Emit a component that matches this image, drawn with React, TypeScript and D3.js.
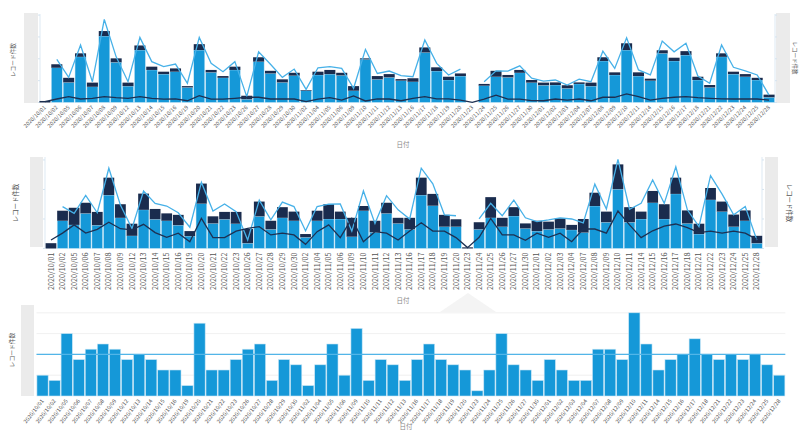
import React from 'react';
import * as d3 from 'd3';

const dates = [
  '2020/10/01','2020/10/02','2020/10/05','2020/10/06','2020/10/07','2020/10/08','2020/10/09','2020/10/12','2020/10/13','2020/10/14','2020/10/15','2020/10/16','2020/10/19','2020/10/20','2020/10/21','2020/10/22','2020/10/23','2020/10/26','2020/10/27','2020/10/28','2020/10/29','2020/10/30',
  '2020/11/02','2020/11/04','2020/11/05','2020/11/06','2020/11/09','2020/11/10','2020/11/11','2020/11/12','2020/11/13','2020/11/16','2020/11/17','2020/11/18','2020/11/19','2020/11/20','2020/11/23','2020/11/24','2020/11/25','2020/11/26','2020/11/27','2020/11/30',
  '2020/12/01','2020/12/02','2020/12/03','2020/12/04','2020/12/07','2020/12/08','2020/12/09','2020/12/10','2020/12/11','2020/12/14','2020/12/15','2020/12/16','2020/12/17','2020/12/18','2020/12/21','2020/12/22','2020/12/23','2020/12/24','2020/12/25','2020/12/28'
];

// Chart 1 (top)
const topMain = [0,15.9,9.2,20.9,7.2,30.4,18.4,7.5,24,14.9,13,14.1,6.9,24,13.8,11.3,14.9,1.5,18.7,13.3,9.2,12.3,
  5.4,12.6,13,12.4,5.4,19.7,10.6,11.5,10,9.5,22.9,14.4,10.3,12.1,0,7.7,11.8,11.5,13.6,9.1,
  7.9,8,6.5,8.5,7.5,19,12.6,24,12.1,10,22.5,19,21.7,10.3,6.9,20.9,13,11.8,10.3,2.4];
const topCap = [0.7,1.6,2.1,1.6,1.9,2.3,1.8,1.6,2.1,1.5,1.1,1.5,0.6,2.7,1.1,0.8,1.5,1.6,2.0,1.2,1.4,1.3,
  0.3,1.5,1.9,1.2,2.1,0.5,1.5,1.5,0.7,1.6,2.3,1.7,1.5,1.2,0,0.8,2.7,1.1,1.3,1.2,
  1.2,1.2,1.4,0.7,1.6,1.7,1.2,3.1,1.7,0.9,1.4,1.5,1.8,1.5,1.1,1.6,1.1,1.2,1.0,1.2];
const topLineA: (number | null)[] = [null,19.7,11.5,26.3,9.5,38,20.9,9.5,29.8,18.7,16.4,17.6,8.8,29.8,17.9,14.1,18.7,2.7,23.2,17.5,11.5,15.3,
  6,15.9,16.4,15.6,6.5,24.3,13.3,14.4,12.3,11.8,28.6,17.9,12.6,15.3,null,9.5,14.5,14.4,16.8,11.1,
  9.8,10.3,8,10.7,9.5,23.5,15.6,29.6,14.9,12.6,28.1,23.2,27.1,12.1,8.8,26.3,16.1,14.5,12.6,3.4];
const topLineB = [0.4,1.6,2.7,1.6,1.9,2.7,2.2,1.9,2.7,1.9,1.5,1.7,0.8,3.1,1.5,1.5,1.9,2.4,2.4,1.6,1.6,1.6,
  0.4,1.5,2.2,1.1,3,0.7,1.7,1.6,0.8,1.9,2.7,1.7,1.7,1.1,0.1,1.5,3.4,1.5,1.5,0.9,
  0.8,1.6,1.1,1.6,0.8,2.4,2.4,3.9,2.7,1.1,1.9,2.4,2.7,2.2,1.9,1.7,1.6,1.7,1.6,1.1];
const topTicks = [0, 10, 20, 30, 40];

// Chart 2 (middle)
const midMain = [0,9.4,8,11.9,7.9,18.1,10.4,4.3,13.1,9.9,9.4,7.9,4.2,15.2,8.5,9.9,8.4,1.8,10.9,6.5,10.4,9.4,
  3.8,9.4,10,10,4,12.8,5.5,11.9,8.5,6.5,18.1,14.5,7.4,7.4,0,6.5,10.4,7.4,11,6.8,
  5.9,6.5,6.8,6.3,5.4,14.4,8.9,20.1,8.9,10,15.5,10,18.5,8.5,4.9,16.5,12.5,7.4,9.4,1.8];
const midCap = [1.8,3.4,5.8,3.6,4.5,5.9,4.6,4.1,5.5,3.5,2.5,3.5,1.7,6.8,2.4,2.5,4.0,4.8,5.0,2.9,3.6,3.1,
  1.1,3.4,5.0,2.5,6.4,1.6,3.9,3.6,1.9,3.9,5.9,4.0,4.0,2.5,0.4,2.4,7.0,3.0,3.0,1.7,
  3.5,2.6,3.4,1.7,4.6,4.5,3.6,8.4,5.1,2.5,4.0,5.0,5.5,4.4,3.5,4.0,3.4,4.1,3.5,2.5];
const midLineA: (number | null)[] = [null,14.2,11.9,18,12.1,27.2,14.7,6.8,19.5,15.3,14.4,12.1,7.2,22.4,12.7,15.1,12.5,2.9,16.4,9.7,15.7,14.2,
  6,14.2,15,15.1,5.9,19.5,8.5,17.9,13.1,10,27.2,21.9,11.4,11.1,null,10,15.3,11.1,16.4,10.4,
  9.1,9.7,10.4,10,8.7,21.8,13.4,30.2,13.3,15.3,23.2,15.3,27.7,13.1,7.4,24.7,18.4,11.4,14.2,2.9];
const midLineB = [2.9,5.2,8,5.2,6.5,8.9,6.7,6.3,8.2,5.4,3.8,5.2,2.3,10.2,3.7,3.7,5.9,6.8,7.4,4.6,5.2,4.6,
  1.4,5.7,8,3.7,10.2,2.3,5.7,5.2,2.9,5.9,8.7,5.9,5.9,3.7,0.3,3.8,10.2,4.6,4.6,2.8,
  5.2,3.8,5.2,2.3,6.6,6.6,5.2,12.7,8,3.7,6,7.6,8.3,7.1,5.4,5.9,5.2,5.9,5.2,3.1];
const midTicks = [0, 10, 20, 30];

// Chart 3 (bottom)
const botCount = [4,3,12,7,9,10,9,7,8,7,5,5,2,14,5,5,7,9,10,3,7,6,
  2,6,10,4,13,3,7,6,3,7,10,7,6,5,1,5,12,6,5,3,
  7,5,3,3,9,9,7,16,10,5,7,8,11,8,7,8,7,8,6,4];
const botRef = 8;
const botTicks = [4, 8, 12, 16];

const yTitle = 'レコード件数';
const xTitle = '日付';

const FONT = '"Noto Sans CJK JP", "Noto Sans", sans-serif';
const C_BAR = '#1598d8';
const C_CAP = '#1a2c4e';
const C_LINE_A = '#47b1e8';
const C_LINE_B = '#1d3052';
const C_BOX = '#ebebeb';
const C_TXT = '#555';

function band(range: [number, number]) {
  return d3.scaleBand<string>().domain(dates).range(range).paddingInner(0.07).paddingOuter(0.035);
}

type StackCfg = {
  main: number[]; cap: number[]; lineA: (number | null)[]; lineB: number[];
  xr: [number, number]; ydom: [number, number]; yr: [number, number];
  ticks: number[]; leftAxisX: number; rightAxisX: number;
  leftBox: [number, number, number, number]; rightBox: [number, number, number, number];
  leftLabel: [number, number, number]; rightLabel: [number, number, number];
  titleY: number; labelMode: 'slant' | 'vertical';
};

function StackPanel({ c }: { c: StackCfg }) {
  const x = band(c.xr);
  const y = d3.scaleLinear().domain(c.ydom).range(c.yr);
  const bw = x.bandwidth();
  const cx = (d: string) => (x(d) as number) + bw / 2;
  const lineA = d3.line<number | null>()
    .defined((v) => v !== null)
    .x((_, i) => cx(dates[i]))
    .y((v) => y(v as number));
  const lineB = d3.line<number>().x((_, i) => cx(dates[i])).y((v) => y(v));
  const base = y(0);
  return (
    <g>
      <rect x={c.leftBox[0]} y={c.leftBox[1]} width={c.leftBox[2]} height={c.leftBox[3]} fill={C_BOX} />
      <rect x={c.rightBox[0]} y={c.rightBox[1]} width={c.rightBox[2]} height={c.rightBox[3]} fill={C_BOX} />
      <line x1={c.leftAxisX} x2={c.leftAxisX} y1={c.yr[1]} y2={base} stroke="#dde9f3" />
      <line x1={c.rightAxisX} x2={c.rightAxisX} y1={c.yr[1]} y2={base} stroke="#dde9f3" />
      {c.ticks.map((t) => (
        <g key={t}>
          <line x1={c.leftAxisX - 2} x2={c.leftAxisX} y1={y(t)} y2={y(t)} stroke="#d5e4f0" />
          <line x1={c.rightAxisX} x2={c.rightAxisX + 2} y1={y(t)} y2={y(t)} stroke="#d5e4f0" />
        </g>
      ))}
      {dates.map((d, i) => (
        <g key={d}>
          {c.main[i] > 0 && (
            <rect x={x(d)} y={y(c.main[i])} width={bw} height={base - y(c.main[i])}
              fill={C_BAR} stroke="#cfe9f7" strokeWidth={0.5} />
          )}
          {c.cap[i] > 0 && (
            <rect x={x(d)} y={y(c.main[i] + c.cap[i])} width={bw}
              height={y(c.main[i]) - y(c.main[i] + c.cap[i])} fill={C_CAP} />
          )}
        </g>
      ))}
      <path d={lineA(c.lineA) || ''} fill="none" stroke={C_LINE_A} strokeWidth={1.3} />
      <path d={lineB(c.lineB) || ''} fill="none" stroke={C_LINE_B} strokeWidth={1.3} />
      {dates.map((d) => (
        c.labelMode === 'slant' ? (
          <text key={'l' + d} transform={`translate(${cx(d)},${base + 4}) rotate(-45)`} textAnchor="end"
            dy="0.35em" fontSize={5.5} fill={C_TXT} fontFamily={FONT}>{d}</text>
        ) : (
          <text key={'l' + d} transform={`translate(${cx(d)},${base + 4}) rotate(-90)`} textAnchor="end"
            dy="0.35em" fontSize={7.2} fill={C_TXT} fontFamily={FONT}>{d}</text>
        )
      ))}
      <text x={403} y={c.titleY} textAnchor="middle" fontSize={6.5} fill="#888" fontFamily={FONT}>{xTitle}</text>
      <text transform={`translate(${c.leftLabel[0]},${c.leftLabel[1]}) rotate(-90)`} textAnchor="middle"
        dy="0.35em" fontSize={c.leftLabel[2]} fill={C_TXT} fontFamily={FONT}>{yTitle}</text>
      <text transform={`translate(${c.rightLabel[0]},${c.rightLabel[1]}) rotate(90)`} textAnchor="middle"
        dy="0.35em" fontSize={c.rightLabel[2]} fill={C_TXT} fontFamily={FONT}>{yTitle}</text>
    </g>
  );
}

function BottomPanel() {
  const x = band([36.5, 785.3]);
  const y = d3.scaleLinear().domain([0, 17.5]).range([396, 305]);
  const bw = x.bandwidth();
  const base = y(0);
  const cx = (d: string) => (x(d) as number) + bw / 2;
  return (
    <g>
      <rect x={21} y={305} width={13} height={91} fill={C_BOX} />
      {botTicks.map((t) => (
        <line key={t} x1={36.5} x2={785.3} y1={y(t)} y2={y(t)} stroke="#ececec" strokeWidth={0.8} />
      ))}
      {dates.map((d, i) => (
        <rect key={d} x={x(d)} y={y(botCount[i])} width={bw} height={base - y(botCount[i])}
          fill={C_BAR} stroke="#c6e5f6" strokeWidth={0.6} />
      ))}
      <line x1={36.5} x2={785.3} y1={y(botRef)} y2={y(botRef)} stroke="#52b5e8" strokeWidth={1.1} />
      {dates.map((d) => (
        <text key={'l' + d} transform={`translate(${cx(d)},${base + 4}) rotate(-52)`} textAnchor="end"
          dy="0.35em" fontSize={5.5} fill={C_TXT} fontFamily={FONT}>{d}</text>
      ))}
      <text x={406} y={429} textAnchor="middle" fontSize={6.5} fill="#888" fontFamily={FONT}>{xTitle}</text>
      <text transform="translate(12,350) rotate(-90)" textAnchor="middle" dy="0.35em" fontSize={5.8}
        fill={C_TXT} fontFamily={FONT}>{yTitle}</text>
    </g>
  );
}

const topCfg: StackCfg = {
  main: topMain, cap: topCap, lineA: topLineA, lineB: topLineB,
  xr: [39, 775], ydom: [0, 40.5], yr: [102.5, 14], ticks: topTicks,
  leftAxisX: 40, rightAxisX: 775,
  leftBox: [24, 13, 14, 90], rightBox: [776, 13, 14, 90],
  leftLabel: [13, 60, 5.7], rightLabel: [795, 58, 5.5],
  titleY: 147, labelMode: 'slant',
};

const midCfg: StackCfg = {
  main: midMain, cap: midCap, lineA: midLineA, lineB: midLineB,
  xr: [45.2, 762.6], ydom: [0, 31], yr: [248.5, 157], ticks: midTicks,
  leftAxisX: 45, rightAxisX: 762,
  leftBox: [30, 157, 13, 90], rightBox: [765, 157, 13, 90],
  leftLabel: [16, 203, 6.4], rightLabel: [789, 203, 6.4],
  titleY: 303, labelMode: 'vertical',
};

export default function App() {
  return (
    <svg width={800} height={438} style={{ position: 'absolute', left: 0, top: 0, background: '#fff' }}>
      <rect width={800} height={438} fill="#fff" />
      <polygon points="468,293 440,312 496,312" fill="#f4f4f4" />
      <StackPanel c={topCfg} />
      <StackPanel c={midCfg} />
      <BottomPanel />
    </svg>
  );
}
